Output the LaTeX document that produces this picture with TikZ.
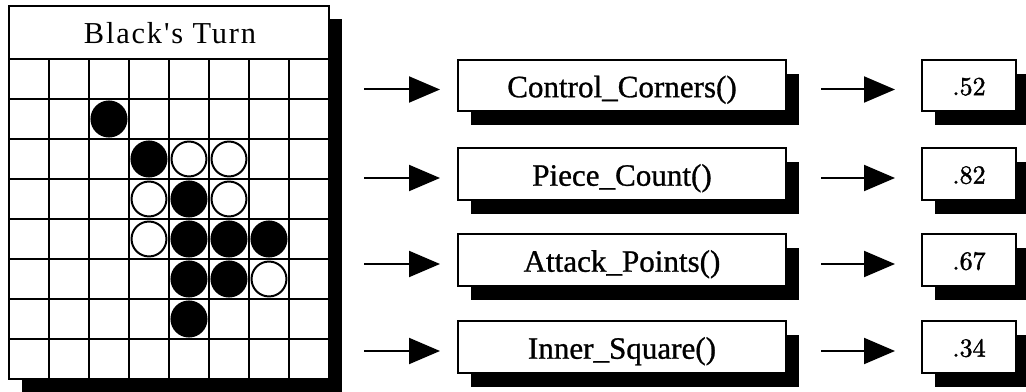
\documentclass[tikz,border=0pt]{standalone}
\usepackage{fontspec}
\newfontfamily\labelfont{Liberation Serif}[FakeBold=0.9]
\newfontfamily\spacedfont{Liberation Serif}[LetterSpace=6]
\newfontfamily\numberfont{lmroman10-regular}[Extension=.otf, FakeBold=1.6]
\usetikzlibrary{arrows.meta,shadows}

\tikzset{
  heavy/.style={line width=1.5pt},
  boxfont/.style={font=\labelfont\fontsize{23.3}{26}\selectfont, text height=17.6pt, text depth=0pt},
  numfont/.style={font=\numberfont\fontsize{19.5}{23}\selectfont, text height=14.4pt, text depth=0pt},
  shadowed/.style={drop shadow={shadow xshift=10pt, shadow yshift=-10.5pt, fill=black, opacity=1}},
  funcbox/.style={draw, heavy, fill=white, shadowed, boxfont, inner sep=0pt,
    minimum width=246pt, minimum height=38.5pt},
  valbox/.style={draw, heavy, fill=white, shadowed, numfont, inner sep=0pt,
    minimum width=70.5pt, minimum height=38.5pt},
  flow/.style={heavy, -{Triangle[length=23.25pt, width=19.5pt]}},
  blackpiece/.style={fill=black},
  whitepiece/.style={draw, heavy, fill=white},
}

\begin{document}
\begin{tikzpicture}[x=0.75pt, y=-0.75pt]
  \useasboundingbox (0,0) rectangle (1026,392);

  % board with its shadow
  \fill (22,19) rectangle (342,392);
  \draw[heavy, fill=white] (9,6) rectangle (329,379);
  \node[font=\spacedfont\fontsize{22.8}{26}\selectfont] (title) at (170,33) {Black's Turn};

  % 8x8 grid
  \foreach \k in {0,...,7} {
    \draw[heavy] (9,{59+40*\k}) -- (329,{59+40*\k});
  }
  \foreach \k in {1,...,7} {
    \draw[heavy] ({9+40*\k},59) -- ({9+40*\k},379);
  }

  % pieces (row/column)
  \foreach \r/\c in {1/2, 2/3, 3/4, 4/4, 4/5, 4/6, 5/4, 5/5, 6/4} {
    \fill[blackpiece] ({29+40*\c},{79+40*\r}) circle[radius=13.9pt];
  }
  \foreach \r/\c in {2/4, 2/5, 3/3, 3/5, 4/3, 5/6} {
    \draw[whitepiece] ({29+40*\c},{79+40*\r}) circle[radius=13.1pt];
  }

  % evaluation functions and their scores
  \node[funcbox] (f1) at (622,85.5) {Control\_Corners()};
  \node[funcbox] (f2) at (622,174)  {Piece\_Count()};
  \node[funcbox] (f3) at (622,260)  {Attack\_Points()};
  \node[funcbox] (f4) at (622,347)  {Inner\_Square()};

  \node[valbox] (v1) at (969,85.5) {.52};
  \node[valbox] (v2) at (969,174)  {.82};
  \node[valbox] (v3) at (969,260)  {.67};
  \node[valbox] (v4) at (969,347)  {.34};

  % connectors
  \coordinate (a1) at (364,89.5);
  \coordinate (a2) at (364,178);
  \coordinate (a3) at (364,264);
  \coordinate (a4) at (364,351);
  \foreach \i in {1,...,4} {
    \draw[flow, shorten >=12.75pt] (a\i) -- (a\i -| f\i.west);
    \draw[flow, shorten <=25.5pt, shorten >=19.5pt] (a\i -| f\i.east) -- (a\i -| v\i.west);
  }
\end{tikzpicture}
\end{document}
